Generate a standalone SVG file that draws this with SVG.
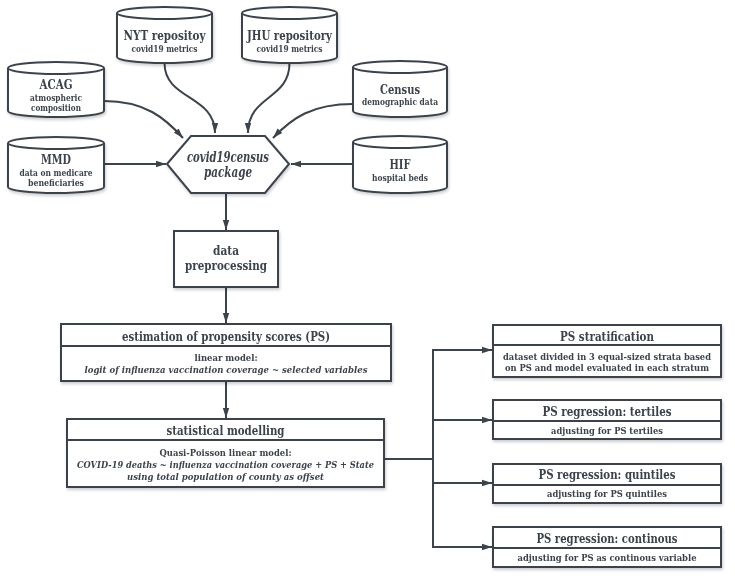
<svg xmlns="http://www.w3.org/2000/svg" width="735" height="580" viewBox="0 0 735 580">
<defs>
<style>
.s{fill:#fff;stroke:#3b434c;stroke-width:2}
.ln{fill:none;stroke:#3b434c;stroke-width:2}
.t{font-family:"DejaVu Serif","Liberation Serif",serif;font-weight:bold;fill:#3b434c;text-anchor:middle}
.h{font-size:12.5px}
.c{font-size:12.5px}
.b{font-size:9.5px}
.n{font-size:8.6px}
.i{font-style:italic}
</style>
<marker id="ar" viewBox="0 0 10 10" refX="10" refY="5" markerWidth="5" markerHeight="5" orient="auto" markerUnits="strokeWidth">
<path d="M0,1.8 L10,5 L0,8.2 z" fill="#3b434c"/>
</marker>
<filter id="sh" x="-10%" y="-10%" width="120%" height="130%">
<feDropShadow dx="1" dy="2" stdDeviation="1.5" flood-color="#000" flood-opacity="0.2"/>
</filter>
</defs>
<rect width="735" height="580" fill="#fff"/>

<g id="connectors">
<path class="ln" d="M164.5,63 C164.5,100 215,95 215,133" marker-end="url(#ar)"/>
<path class="ln" d="M289.5,63 C289.5,100 248,95 248,133" marker-end="url(#ar)"/>
<path class="ln" d="M104,101 C145,101 165,118 183,138" marker-end="url(#ar)"/>
<path class="ln" d="M353,104 C312,104 292,118 273,138" marker-end="url(#ar)"/>
<path class="ln" d="M104,164 L166,164" marker-end="url(#ar)"/>
<path class="ln" d="M353,164 L291,164" marker-end="url(#ar)"/>
<path class="ln" d="M226,193 L226,230" marker-end="url(#ar)"/>
<path class="ln" d="M226,287 L226,323" marker-end="url(#ar)"/>
<path class="ln" d="M226,381 L226,418" marker-end="url(#ar)"/>
<path class="ln" d="M384,459 L433,459"/>
<path class="ln" d="M433,350 L433,547"/>
<path class="ln" d="M432,350 L492,350" marker-end="url(#ar)"/>
<path class="ln" d="M432,420 L492,420" marker-end="url(#ar)"/>
<path class="ln" d="M432,483 L492,483" marker-end="url(#ar)"/>
<path class="ln" d="M432,547 L492,547" marker-end="url(#ar)"/>
</g>

<g id="nyt" filter="url(#sh)">
<path class="s" d="M117,13 A47.5,6 0 0 1 212,13 L212,57 A47.5,6 0 0 1 117,57 Z"/>
<path class="ln" d="M117,13 A47.5,6 0 0 0 212,13"/>
<text class="t c" x="164.5" y="40" textLength="82" lengthAdjust="spacingAndGlyphs">NYT repositoy</text>
<text class="t b" x="164.5" y="52" textLength="66" lengthAdjust="spacingAndGlyphs">covid19 metrics</text>
</g>
<g id="jhu" filter="url(#sh)">
<path class="s" d="M242,13 A47.5,6 0 0 1 337,13 L337,57 A47.5,6 0 0 1 242,57 Z"/>
<path class="ln" d="M242,13 A47.5,6 0 0 0 337,13"/>
<text class="t c" x="289.5" y="40" textLength="85" lengthAdjust="spacingAndGlyphs">JHU repository</text>
<text class="t b" x="289.5" y="52" textLength="66" lengthAdjust="spacingAndGlyphs">covid19 metrics</text>
</g>
<g id="acag" filter="url(#sh)">
<path class="s" d="M8,68 A48,6 0 0 1 104,68 L104,111 A48,6 0 0 1 8,111 Z"/>
<path class="ln" d="M8,68 A48,6 0 0 0 104,68"/>
<text class="t c" x="56" y="89" textLength="33" lengthAdjust="spacingAndGlyphs">ACAG</text>
<text class="t b" x="56" y="101" textLength="52" lengthAdjust="spacingAndGlyphs">atmospheric</text>
<text class="t b" x="56" y="111" textLength="50" lengthAdjust="spacingAndGlyphs">composition</text>
</g>
<g id="census" filter="url(#sh)">
<path class="s" d="M353,67 A47,6 0 0 1 447,67 L447,111 A47,6 0 0 1 353,111 Z"/>
<path class="ln" d="M353,67 A47,6 0 0 0 447,67"/>
<text class="t c" x="400" y="94" textLength="40" lengthAdjust="spacingAndGlyphs">Census</text>
<text class="t b" x="400" y="105" textLength="76" lengthAdjust="spacingAndGlyphs">demographic data</text>
</g>
<g id="mmd" filter="url(#sh)">
<path class="s" d="M8,143 A48,6 0 0 1 104,143 L104,187 A48,6 0 0 1 8,187 Z"/>
<path class="ln" d="M8,143 A48,6 0 0 0 104,143"/>
<text class="t c" x="56" y="164" textLength="30" lengthAdjust="spacingAndGlyphs">MMD</text>
<text class="t b" x="56" y="176" textLength="73" lengthAdjust="spacingAndGlyphs">data on medicare</text>
<text class="t b" x="56" y="186" textLength="56" lengthAdjust="spacingAndGlyphs">beneficiaries</text>
</g>
<g id="hif" filter="url(#sh)">
<path class="s" d="M353,142 A47,6 0 0 1 447,142 L447,187 A47,6 0 0 1 353,187 Z"/>
<path class="ln" d="M353,142 A47,6 0 0 0 447,142"/>
<text class="t c" x="400" y="169" textLength="21" lengthAdjust="spacingAndGlyphs">HIF</text>
<text class="t b" x="400" y="181" textLength="56" lengthAdjust="spacingAndGlyphs">hospital beds</text>
</g>

<g id="package" filter="url(#sh)">
<polygon class="s" points="167,164 191,136 265,136 289,164 265,193 191,193"/>
<text class="t i" font-size="14" x="228" y="162" textLength="82" lengthAdjust="spacingAndGlyphs">covid19census</text>
<text class="t i" font-size="14" x="228" y="177" textLength="48" lengthAdjust="spacingAndGlyphs">package</text>
</g>

<g id="preprocessing" filter="url(#sh)">
<rect class="s" x="174" y="231" width="104" height="56"/>
<text class="t h" x="226" y="255" textLength="26" lengthAdjust="spacingAndGlyphs">data</text>
<text class="t h" x="226" y="270" textLength="82" lengthAdjust="spacingAndGlyphs">preprocessing</text>
</g>

<g id="ps-estimation" filter="url(#sh)">
<rect class="s" x="61" y="324" width="330" height="57"/>
<line class="ln" x1="61" y1="346" x2="391" y2="346"/>
<text class="t h" x="226" y="341" textLength="208" lengthAdjust="spacingAndGlyphs">estimation of propensity scores (PS)</text>
<text class="t b" x="226" y="361" textLength="63" lengthAdjust="spacingAndGlyphs">linear model:</text>
<text class="t b i" x="226" y="373" textLength="283" lengthAdjust="spacingAndGlyphs">logit of influenza vaccination coverage ~ selected variables</text>
</g>

<g id="stat-modelling" filter="url(#sh)">
<rect class="s" x="67" y="419" width="317" height="68"/>
<line class="ln" x1="67" y1="440" x2="384" y2="440"/>
<text class="t h" x="225.5" y="435" textLength="118" lengthAdjust="spacingAndGlyphs">statistical modelling</text>
<text class="t b" x="225.5" y="456" textLength="132" lengthAdjust="spacingAndGlyphs">Quasi-Poisson linear model:</text>
<text class="t n i" x="225.5" y="468" textLength="297" lengthAdjust="spacingAndGlyphs">COVID-19 deaths ~ influenza vaccination coverage + PS + State</text>
<text class="t b i" x="225.5" y="480" textLength="197" lengthAdjust="spacingAndGlyphs">using total population of county as offset</text>
</g>

<g id="ps-stratification" filter="url(#sh)">
<rect class="s" x="493" y="325" width="228" height="52"/>
<line class="ln" x1="493" y1="345" x2="721" y2="345"/>
<text class="t h" x="607" y="341" textLength="94" lengthAdjust="spacingAndGlyphs">PS stratification</text>
<text class="t n" x="607" y="360" textLength="208" lengthAdjust="spacingAndGlyphs">dataset divided in 3 equal-sized strata based</text>
<text class="t n" x="607" y="371" textLength="204" lengthAdjust="spacingAndGlyphs">on PS and model evaluated in each stratum</text>
</g>
<g id="ps-tertiles" filter="url(#sh)">
<rect class="s" x="493" y="400" width="228" height="39"/>
<line class="ln" x1="493" y1="421" x2="721" y2="421"/>
<text class="t h" x="607" y="416" textLength="129" lengthAdjust="spacingAndGlyphs">PS regression: tertiles</text>
<text class="t b" x="607" y="434" textLength="112" lengthAdjust="spacingAndGlyphs">adjusting for PS tertiles</text>
</g>
<g id="ps-quintiles" filter="url(#sh)">
<rect class="s" x="493" y="464" width="228" height="39"/>
<line class="ln" x1="493" y1="485" x2="721" y2="485"/>
<text class="t h" x="607" y="479" textLength="137" lengthAdjust="spacingAndGlyphs">PS regression: quintiles</text>
<text class="t b" x="607" y="497" textLength="120" lengthAdjust="spacingAndGlyphs">adjusting for PS quintiles</text>
</g>
<g id="ps-continous" filter="url(#sh)">
<rect class="s" x="493" y="527" width="228" height="40"/>
<line class="ln" x1="493" y1="548" x2="721" y2="548"/>
<text class="t h" x="607" y="543" textLength="141" lengthAdjust="spacingAndGlyphs">PS regression: continous</text>
<text class="t b" x="607" y="561" textLength="179" lengthAdjust="spacingAndGlyphs">adjusting for PS as continous variable</text>
</g>
</svg>
